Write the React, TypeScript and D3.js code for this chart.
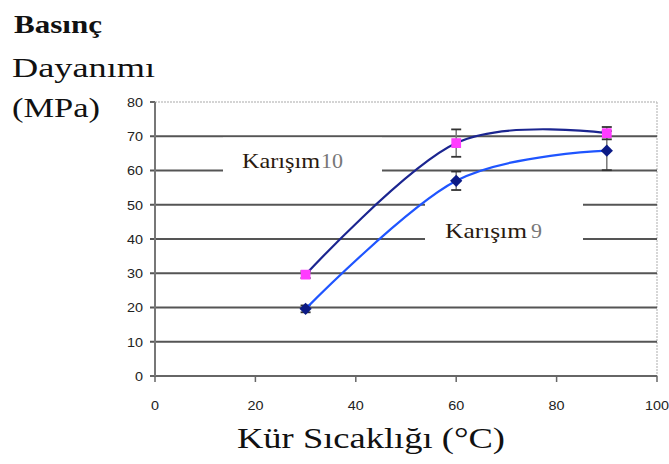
import React from "react";
import * as d3 from "d3";

// Cure temperature (°C) on the x axis
const temps = [30, 60, 90];
// Mix 10: compressive strength (MPa) and error bar half-widths
const mix10 = [29.6, 68, 70.9];
const mix10Err = [1, 4, 1.8];
// Mix 9: compressive strength (MPa) and error bar half-widths
const mix9 = [19.6, 57, 65.8];
const mix9Err = [1, 2.7, 5.7];

const yTicks = [0, 10, 20, 30, 40, 50, 60, 70, 80];
const xTicks = [0, 20, 40, 60, 80, 100];

const W = 669;
const H = 464;

const x = d3.scaleLinear().domain([0, 100]).range([155, 657]);
const y = d3.scaleLinear().domain([0, 80]).range([376, 102]);

const smooth = d3
  .line<[number, number]>()
  .x((d) => x(d[0]))
  .y((d) => y(d[1]))
  .curve(d3.curveCardinal.tension(0));

const squareSym = d3.symbol().type(d3.symbolSquare).size(95)();
const diamondSym = d3.symbol().type(d3.symbolSquare).size(75)();

const serif = "'Liberation Serif', 'Times New Roman', serif";
const sans = "'Liberation Sans', Arial, sans-serif";

function ErrorBars({ vals, errs }: { vals: number[]; errs: number[] }) {
  return (
    <g>
      {temps.map((t, i) => {
        const cx = x(t);
        const top = y(vals[i] + errs[i]);
        const bot = y(vals[i] - errs[i]);
        return (
          <g key={t}>
            <line x1={cx} x2={cx} y1={top} y2={bot} stroke="#777" strokeWidth={1.5} />
            <line x1={cx - 5} x2={cx + 5} y1={top} y2={top} stroke="#333" strokeWidth={1.8} />
            <line x1={cx - 5} x2={cx + 5} y1={bot} y2={bot} stroke="#333" strokeWidth={1.8} />
          </g>
        );
      })}
    </g>
  );
}

export default function App() {
  const pts10 = temps.map((t, i) => [t, mix10[i]] as [number, number]);
  const pts9 = temps.map((t, i) => [t, mix9[i]] as [number, number]);

  return (
    <div style={{ position: "absolute", left: 0, top: 0 }}>
      <svg width={W} height={H} style={{ display: "block", background: "#fff" }}>
        {/* plot frame: dotted top and right edges */}
        <line x1={x(0)} x2={x(100)} y1={y(80)} y2={y(80)} stroke="#aaa" strokeWidth={1.2} strokeDasharray="2,1" />
        <line x1={x(100)} x2={x(100)} y1={y(80)} y2={y(0)} stroke="#bbb" strokeWidth={1.2} strokeDasharray="2,1" />

        {/* horizontal gridlines */}
        {yTicks
          .filter((v) => v > 0 && v < 80)
          .map((v) => (
            <line key={v} x1={150} x2={x(100)} y1={y(v)} y2={y(v)} stroke="#555" strokeWidth={2.2} />
          ))}
        <line x1={150} x2={155} y1={y(80)} y2={y(80)} stroke="#666" strokeWidth={2} />

        {/* axes */}
        <line x1={150} x2={x(100)} y1={y(0)} y2={y(0)} stroke="#666" strokeWidth={2} />
        <line x1={x(0)} x2={x(0)} y1={y(80)} y2={y(0)} stroke="#777" strokeWidth={2} />
        {xTicks.map((v) => (
          <line key={v} x1={x(v)} x2={x(v)} y1={y(0)} y2={y(0) + 6} stroke="#666" strokeWidth={1.5} />
        ))}

        {/* series label boxes */}
        <rect x={223} y={137.6} width={159} height={56} fill="#fff" />
        <rect x={425} y={198} width={158} height={50} fill="#fff" />

        {/* y tick labels */}
        {yTicks.map((v) => {
          const s = String(v);
          return (
            <text
              key={v}
              x={143}
              y={y(v) + 4.8}
              textAnchor="end"
              fontFamily={sans}
              fontSize={12.5}
              fill="#222"
              textLength={s.length * 8}
              lengthAdjust="spacingAndGlyphs"
            >
              {s}
            </text>
          );
        })}
        <rect x={112} y={84} width={40} height={14} fill="#fff" />

        {/* x tick labels */}
        {xTicks.map((v) => {
          const s = String(v);
          return (
            <text
              key={v}
              x={x(v) - (s.length * 8) / 2}
              y={409.5}
              fontFamily={sans}
              fontSize={12.5}
              fill="#222"
              textLength={s.length * 8}
              lengthAdjust="spacingAndGlyphs"
            >
              {s}
            </text>
          );
        })}

        {/* series labels */}
        <text x={242} y={168} fontFamily={serif} fontSize={22} fill="#2a1a10" textLength={78} lengthAdjust="spacingAndGlyphs">
          Karışım
        </text>
        <text x={321} y={168} fontFamily={serif} fontSize={20} fill="#777" textLength={22} lengthAdjust="spacingAndGlyphs">
          10
        </text>
        <text x={445} y={238} fontFamily={serif} fontSize={22} fill="#2a1a10" textLength={82} lengthAdjust="spacingAndGlyphs">
          Karışım
        </text>
        <text x={531} y={238} fontFamily={serif} fontSize={22} fill="#777" textLength={11} lengthAdjust="spacingAndGlyphs">
          9
        </text>

        {/* error bars */}
        <ErrorBars vals={mix9} errs={mix9Err} />
        <ErrorBars vals={mix10} errs={mix10Err} />

        {/* smoothed series lines */}
        <path d={smooth(pts9) ?? ""} fill="none" stroke="#1f55ff" strokeWidth={2.2} />
        <path d={smooth(pts10) ?? ""} fill="none" stroke="#1b2590" strokeWidth={2.2} />

        {/* markers */}
        {pts9.map((p) => (
          <path
            key={"d" + p[0]}
            d={diamondSym ?? ""}
            transform={`translate(${x(p[0])},${y(p[1])}) rotate(45)`}
            fill="#0b1a85"
          />
        ))}
        {pts10.map((p) => (
          <path key={"s" + p[0]} d={squareSym ?? ""} transform={`translate(${x(p[0])},${y(p[1])})`} fill="#ff3cff" />
        ))}

        {/* axis titles */}
        <text x={14} y={33} fontFamily={serif} fontWeight="bold" fontSize={25} fill="#111" textLength={88} lengthAdjust="spacingAndGlyphs">
          Basınç
        </text>
        <text x={12} y={77} fontFamily={serif} fontSize={27} fill="#111" textLength={143} lengthAdjust="spacingAndGlyphs">
          Dayanımı
        </text>
        <text x={12} y={117} fontFamily={serif} fontSize={27} fill="#111" textLength={88} lengthAdjust="spacingAndGlyphs">
          (MPa)
        </text>
        <text x={237} y={448} fontFamily={serif} fontSize={30} fill="#111" textLength={268} lengthAdjust="spacingAndGlyphs">
          Kür Sıcaklığı (°C)
        </text>
      </svg>
    </div>
  );
}
